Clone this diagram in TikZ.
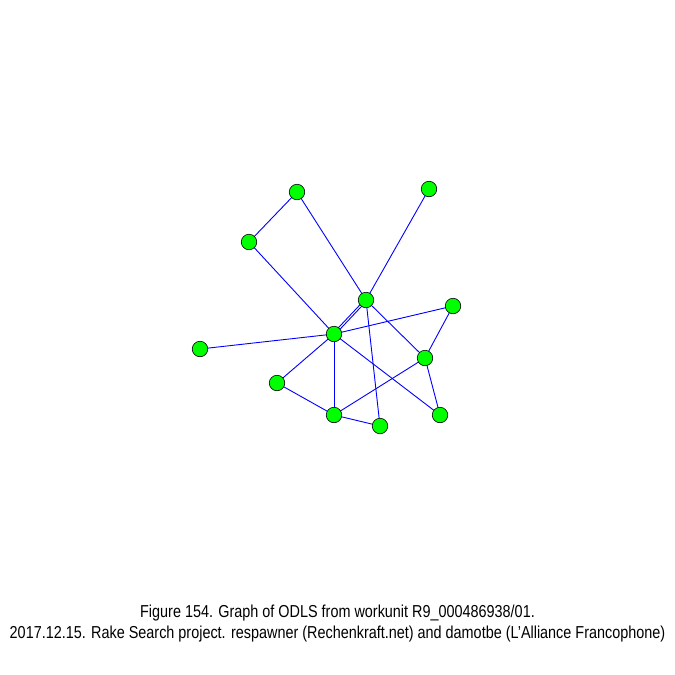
\documentclass[tikz,border=0pt]{standalone}
\usepackage{fontspec}
\setmainfont{Liberation Sans}
\begin{document}
\begin{tikzpicture}[x=1pt,y=-1pt,
  vtx/.style={circle,draw=black,line width=0.6pt,fill=green,minimum size=15.5pt,inner sep=0pt},
  lnk/.style={draw=blue,line width=0.9pt},
  captext/.style={inner sep=0pt,anchor=base,font=\fontsize{17.3}{20}\selectfont}]
\useasboundingbox (0,0) rectangle (675,675);
\coordinate (c1) at (297,192);
\coordinate (c2) at (429,189);
\coordinate (c3) at (249,242);
\coordinate (c4) at (366,300);
\coordinate (c5) at (453,306);
\coordinate (c6) at (334,334);
\coordinate (c7) at (200,349);
\coordinate (c8) at (425,358);
\coordinate (c9) at (277,383);
\coordinate (c10) at (334,415);
\coordinate (c11) at (440,415);
\coordinate (c12) at (380,426);
\foreach \a/\b in {c1/c3,c1/c4,c2/c4,c3/c6,c4/c8,c4/c12,c5/c6,c5/c8,c7/c6,c6/c9,c6/c10,c6/c11,c9/c10,c10/c8,c10/c12,c8/c11}
  \draw[lnk] (\a) -- (\b);
\draw[lnk] ([shift={(-0.8,-0.75)}]c6) -- ([shift={(-0.8,-0.75)}]c4);
\draw[lnk] ([shift={(0.8,0.75)}]c6) -- ([shift={(0.8,0.75)}]c4);
\foreach \i in {1,...,12}
  \node[vtx] (n\i) at (c\i) {};
\node[captext] (t1) at (337.5,617) {\scalebox{0.833}[1]{Figure 154. Graph of ODLS from workunit R9\_000486938/01.}};
\node[captext] (t2) at (337.5,638) {\scalebox{0.833}[1]{2017.12.15. Rake Search project. respawner (Rechenkraft.net) and damotbe (L'Alliance Francophone)}};
\end{tikzpicture}
\end{document}
